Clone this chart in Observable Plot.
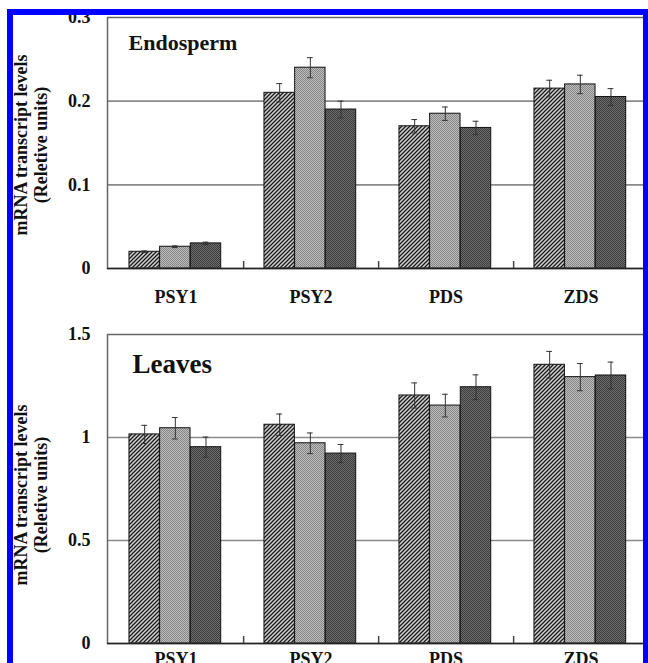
<!DOCTYPE html>
<html><head><meta charset="utf-8">
<script src="https://cdn.jsdelivr.net/npm/d3@7"></script>
<script src="https://cdn.jsdelivr.net/npm/@observablehq/plot@0.6"></script>
<style>
html,body{margin:0;padding:0;width:648px;height:663px;overflow:hidden;background:#fff;}
#wrap{position:relative;width:648px;height:663px;overflow:hidden;}
#top,#bottom{position:absolute;left:0;}
#top{top:0}
#bottom{top:310px}
#border{position:absolute;left:7px;top:9px;width:641px;height:720px;box-sizing:border-box;border:6px solid #0000ff;border-bottom:none;border-right-width:5px;pointer-events:none;}
</style></head>
<body>
<svg width="0" height="0" style="position:absolute">
<defs>
<pattern id="hatch" patternUnits="userSpaceOnUse" width="4" height="4">
 <rect width="4" height="4" fill="#d2d2d2"/>
 <path d="M-1,1 l2,-2 M0,4 l4,-4 M3,5 l2,-2" stroke="#1a1a1a" stroke-width="1.3"/>
</pattern>
<pattern id="light" patternUnits="userSpaceOnUse" width="2" height="2">
 <rect width="2" height="2" fill="#bdbdbd"/>
 <rect width="1" height="1" fill="#868686"/>
 <rect x="1" y="1" width="1" height="1" fill="#868686"/>
</pattern>
<pattern id="dark" patternUnits="userSpaceOnUse" width="2" height="2">
 <rect width="2" height="2" fill="#6e6e6e"/>
 <rect width="1" height="1" fill="#3c3c3c"/>
 <rect x="1" y="1" width="1" height="1" fill="#3c3c3c"/>
</pattern>
</defs>
</svg>
<div id="wrap">
<div id="top"></div>
<div id="bottom"></div>
<div id="border"></div>
</div>
<script>
// ---- data ----
const genes = ["PSY1", "PSY2", "PDS", "ZDS"];
const series = ["series 1", "series 2", "series 3"];
const seriesFills = ["url(#hatch)", "url(#light)", "url(#dark)"];

const endoS1 = [0.020, 0.210, 0.170, 0.215];
const endoS2 = [0.026, 0.240, 0.185, 0.220];
const endoS3 = [0.030, 0.190, 0.168, 0.205];
const endoErr1 = [0.001, 0.011, 0.008, 0.010];
const endoErr2 = [0.001, 0.012, 0.008, 0.011];
const endoErr3 = [0.0015, 0.010, 0.008, 0.010];

const leafS1 = [1.015, 1.062, 1.204, 1.353];
const leafS2 = [1.045, 0.972, 1.155, 1.293];
const leafS3 = [0.953, 0.922, 1.244, 1.301];
const leafErr1 = [0.044, 0.052, 0.061, 0.065];
const leafErr2 = [0.052, 0.050, 0.055, 0.066];
const leafErr3 = [0.049, 0.044, 0.060, 0.065];

const endoTicks = [0, 0.1, 0.2, 0.3];
const leafTicks = [0, 0.5, 1, 1.5];
const yTitle = "mRNA transcript levels\n(Reletive units)";

// ---- layout ----
const W = 648, ML = 107, MR = 0;
const S = (W - ML - MR) / genes.length;
const START = 0.155, BW = 0.2267;
const font = "'Liberation Serif', 'Times New Roman', serif";

function panel({vals, errs, ticks, height, marginTop, marginBottom, title, titleSize, titleDx, titleDy, yTitleDy, labelDy}) {
  const plotH = height - marginTop - marginBottom;
  const yMax = ticks[ticks.length - 1];
  const marks = [
    Plot.ruleY(ticks.filter(t => t > 0 && t < yMax), {stroke: "#8a8a8a", strokeWidth: 1.6})
  ];
  series.forEach((s, i) => {
    const d = genes.map((g, j) => ({gene: g, value: vals[i][j], err: errs[i][j]}));
    const left = S * (START + BW * i);
    const right = S - S * (START + BW * (i + 1));
    marks.push(Plot.barY(d, {x: "gene", y: "value", fill: seriesFills[i], stroke: "#111", strokeWidth: 1, insetLeft: left, insetRight: right}));
    const c = S * (START + BW * (i + 0.5)) - S / 2;
    marks.push(Plot.ruleX(d, {x: "gene", y1: r => r.value - r.err, y2: r => r.value + r.err, dx: c, stroke: "#333", strokeWidth: 1}));
    marks.push(Plot.tickY(d, {x: "gene", y: r => r.value + r.err, insetLeft: S / 2 + c - 3, insetRight: S / 2 - c - 3, stroke: "#333", strokeWidth: 1}));
    marks.push(Plot.tickY(d, {x: "gene", y: r => r.value - r.err, insetLeft: S / 2 + c - 3, insetRight: S / 2 - c - 3, stroke: "#333", strokeWidth: 1}));
  });
  marks.push(
    Plot.frame({stroke: "#666", strokeWidth: 1.5}),
    Plot.ruleY([0], {stroke: "#222", strokeWidth: 1.5}),
    Plot.tickX(genes.slice(0, genes.length - 1), {x: d => d, dx: S / 2, insetTop: plotH - 7, stroke: "#444", strokeWidth: 1.5}),
    Plot.text(genes, {x: d => d, text: d => d, frameAnchor: "bottom", dy: labelDy, lineAnchor: "middle", fontSize: 18, fontWeight: "bold"}),
    Plot.text([title], {text: d => d, frameAnchor: "top-left", dx: titleDx, dy: titleDy, textAnchor: "start", lineAnchor: "middle", fontSize: titleSize, fontWeight: "bold"}),
    Plot.text([yTitle], {text: d => d, frameAnchor: "left", rotate: -90, dx: -77, dy: yTitleDy, lineAnchor: "middle", textAnchor: "middle", lineHeight: 1.1, fontSize: 18, fontWeight: "bold"})
  );
  return Plot.plot({
    width: W, height, marginLeft: ML, marginRight: MR, marginTop, marginBottom,
    style: {fontFamily: font, fontSize: "18px", fontWeight: "bold", background: "white", color: "#111", overflow: "visible"},
    x: {domain: genes, padding: 0, axis: null},
    y: {domain: [0, yMax], ticks, tickFormat: d => String(d), tickSize: 0, tickPadding: 17, label: null},
    marks
  });
}

document.getElementById("top").appendChild(panel({
  vals: [endoS1, endoS2, endoS3], errs: [endoErr1, endoErr2, endoErr3], ticks: endoTicks,
  height: 310, marginTop: 17, marginBottom: 42,
  title: "Endosperm", titleSize: 22, titleDx: 21, titleDy: 25, yTitleDy: 2, labelDy: 29
}));
document.getElementById("bottom").appendChild(panel({
  vals: [leafS1, leafS2, leafS3], errs: [leafErr1, leafErr2, leafErr3], ticks: leafTicks,
  height: 380, marginTop: 24, marginBottom: 47,
  title: "Leaves", titleSize: 27, titleDx: 25, titleDy: 30, yTitleDy: 6, labelDy: 16
}));
</script>
</body></html>
